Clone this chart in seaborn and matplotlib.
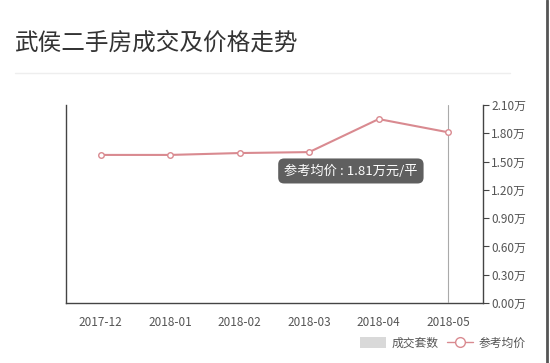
import matplotlib
matplotlib.use("Agg")
import matplotlib.pyplot as plt
import seaborn as sns
import pandas as pd
from matplotlib.patches import Patch
from matplotlib.lines import Line2D
from matplotlib.ticker import FuncFormatter, FixedLocator

# data
months = ['2017-12', '2018-01', '2018-02', '2018-03', '2018-04', '2018-05']
avg_price = [1.57, 1.57, 1.59, 1.60, 1.95, 1.81]   # 万元/平
y_ticks = [0.0, 0.3, 0.6, 0.9, 1.2, 1.5, 1.8, 2.1]

sns.set_style("white")
plt.rcParams['font.family'] = ['Noto Sans CJK SC', 'DejaVu Sans']

line_col = '#d98a90'
axis_col = '#444444'
text_col = '#555555'

df = pd.DataFrame({'month': months, 'price': avg_price})

fig = plt.figure(figsize=(5.5, 3.63), dpi=100)
ax = fig.add_axes([0.12, 0.165, 0.758, 0.546])
ax2 = ax.twinx()

sns.lineplot(data=df, x='month', y='price', ax=ax2, color=line_col, lw=1.5,
             marker='o', markersize=4, markerfacecolor='white',
             markeredgecolor=line_col, markeredgewidth=1.0)

ax.set_xlim(-0.5, len(months) - 0.5)
ax2.set_xlim(-0.5, len(months) - 0.5)
ax2.set_ylim(0, 2.1)
ax.set_ylim(0, 1)
ax.set_yticks([])
ax.set_xlabel('')
ax2.set_xlabel('')
ax2.set_ylabel('')

# x axis: labels at centers, ticks at boundaries
ax.set_xticks(range(len(months)))
ax.set_xticklabels(months, fontsize=8.5, color=text_col)
ax.tick_params(axis='x', which='major', length=0, pad=9)
ax.xaxis.set_minor_locator(FixedLocator([i - 0.5 for i in range(len(months) + 1)]))
ax.tick_params(axis='x', which='minor', length=4, color=axis_col, width=1)

ax2.set_yticks(y_ticks)
ax2.yaxis.set_major_formatter(FuncFormatter(lambda v, p: f'{v:.2f}万'))
ax2.tick_params(axis='y', length=4, color=axis_col, labelsize=8.5,
                labelcolor=text_col, pad=2)

for a in (ax, ax2):
    a.spines['top'].set_visible(False)
    for s in ('left', 'right', 'bottom'):
        a.spines[s].set_color(axis_col)
        a.spines[s].set_linewidth(1)
ax.spines['right'].set_visible(False)
ax2.spines['left'].set_visible(False)
ax2.spines['bottom'].set_visible(False)

# tooltip pointer line and box
ax2.axvline(5, color='#aaaaaa', lw=0.8, zorder=0)
ax2.text(3.6, 1.40, '参考均价 : 1.81万元/平', ha='center', va='center',
         fontsize=9.5, color='white',
         bbox=dict(boxstyle='round,pad=0.45', fc='#5f5f5f', ec='none'))

# title and separator
fig.text(0.026, 0.88, '武侯二手房成交及价格走势', fontsize=17, color='#333333',
         ha='left', va='center')
fig.add_artist(Line2D([0.027, 0.927], [0.799, 0.799], color='#eeeeee', lw=1))
fig.add_artist(Line2D([0.995, 0.995], [0.0, 1.0], color='#555555', lw=2))

handles = [Patch(facecolor='#d9d9d9', edgecolor='none'),
           Line2D([], [], color=line_col, lw=1, marker='o', markersize=7,
                  markerfacecolor='white', markeredgecolor=line_col)]
leg = fig.legend(handles, ['成交套数', '参考均价'], loc='center right',
                 bbox_to_anchor=(0.975, 0.055), ncol=2, frameon=False,
                 fontsize=8.5, handlelength=2.2, handleheight=1.1,
                 columnspacing=0.7, handletextpad=0.5)
for t in leg.get_texts():
    t.set_color(text_col)

fig.savefig('out.png', dpi=100, facecolor='white')
